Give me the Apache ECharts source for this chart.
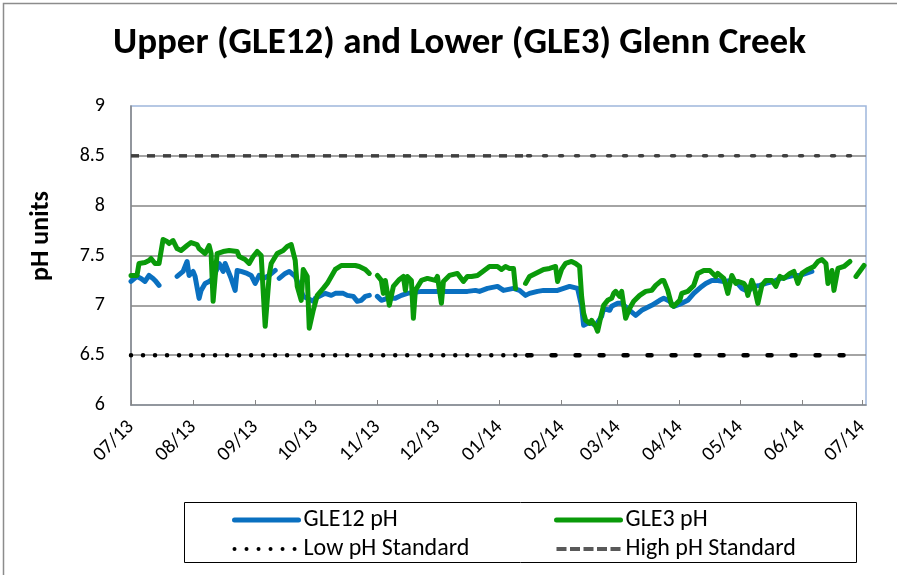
<!DOCTYPE html>
<html>
<head>
<meta charset="utf-8">
<script src="https://cdn.jsdelivr.net/npm/echarts@6/dist/echarts.min.js"></script>
<style>
  html, body { margin: 0; padding: 0; background: #fff; }
  #chart { width: 897px; height: 575px; }
</style>
</head>
<body>
<div id="chart"></div>
<script>
// Glenn Creek continuous pH record, July 2013 - July 2014
const FONT = "Carlito, Lato, sans-serif";

// Upper Glenn Creek (GLE12) readings; null marks a break in the record
const gle12Dates = [
  '2013-07-01','2013-07-04','2013-07-06','2013-07-08','2013-07-10','2013-07-12','2013-07-13','2013-07-15','2013-07-19',
  '2013-07-24','2013-07-27','2013-07-29','2013-07-30','2013-08-01','2013-08-02','2013-08-04','2013-08-05','2013-08-07',
  '2013-08-09','2013-08-11','2013-08-14','2013-08-16','2013-08-17','2013-08-20','2013-08-22','2013-08-23','2013-08-25',
  '2013-08-28','2013-08-30','2013-09-01','2013-09-03','2013-09-05','2013-09-08','2013-09-11','2013-09-12','2013-09-13',
  '2013-09-16','2013-09-18','2013-09-21','2013-09-23','2013-09-25','2013-09-27','2013-09-30','2013-10-01','2013-10-04',
  '2013-10-06','2013-10-09','2013-10-11','2013-10-15','2013-10-17','2013-10-20','2013-10-22','2013-10-24','2013-10-26',
  '2013-10-28','2013-10-30','2013-11-01','2013-11-03','2013-11-06','2013-11-10','2013-11-13','2013-11-16','2013-11-23',
  '2013-12-01','2013-12-11','2013-12-16','2013-12-20','2013-12-22','2013-12-26','2013-12-31','2014-01-03','2014-01-08',
  '2014-01-11','2014-01-14','2014-01-16','2014-01-20','2014-01-23','2014-01-30','2014-02-02','2014-02-05','2014-02-09',
  '2014-02-11','2014-02-12','2014-02-14','2014-02-16','2014-02-18','2014-02-21','2014-02-22','2014-02-25','2014-02-26',
  '2014-03-01','2014-03-03','2014-03-07','2014-03-10','2014-03-13','2014-03-15','2014-03-18','2014-03-22','2014-03-24',
  '2014-03-27','2014-03-29','2014-04-02','2014-04-05','2014-04-08','2014-04-12','2014-04-14','2014-04-17','2014-04-20',
  '2014-04-23','2014-04-27','2014-04-29','2014-05-02','2014-05-05','2014-05-08','2014-05-11','2014-05-14','2014-05-18',
  '2014-05-21','2014-05-24','2014-05-28','2014-05-31','2014-06-03','2014-06-06'
];
const gle12Values = [
  7.24,7.29,7.27,7.24,7.30,7.27,7.25,7.20,null,
  7.29,7.34,7.44,7.30,7.34,7.29,7.07,7.15,7.22,
  7.24,7.27,7.42,7.34,7.42,7.27,7.15,7.35,7.34,
  7.32,7.30,7.22,7.30,7.27,7.30,7.35,null,7.27,
  7.32,7.34,7.29,7.20,7.09,7.07,7.04,7.07,7.10,
  7.12,7.10,7.12,7.12,7.10,7.09,7.04,7.05,7.09,
  7.10,null,7.09,7.05,7.07,7.07,7.10,7.12,7.14,
  7.14,7.14,7.14,7.15,7.14,7.17,7.19,7.15,7.17,
  7.15,7.10,7.12,7.14,7.15,7.15,7.17,7.19,7.17,
  6.99,6.80,6.82,6.82,6.80,6.89,6.97,6.95,6.99,
  7.02,7.02,6.95,6.90,6.95,6.97,7.00,7.05,7.07,
  7.04,6.99,7.02,7.05,7.12,7.19,7.22,7.25,7.25,
  7.24,7.25,7.24,7.17,7.14,7.19,7.20,7.22,7.24,
  7.27,7.28,7.30,7.30,7.32,7.34
];

// Lower Glenn Creek (GLE3) readings; null marks a break in the record
const gle3Dates = [
  '2013-07-01','2013-07-04','2013-07-05','2013-07-08','2013-07-10','2013-07-11','2013-07-13','2013-07-15','2013-07-17',
  '2013-07-19','2013-07-20','2013-07-22','2013-07-24','2013-07-26','2013-07-29','2013-07-31','2013-08-03','2013-08-04',
  '2013-08-07','2013-08-09','2013-08-10','2013-08-11','2013-08-13','2013-08-16','2013-08-19','2013-08-23','2013-08-24',
  '2013-08-27','2013-08-29','2013-08-31','2013-09-02','2013-09-04','2013-09-06','2013-09-08','2013-09-09','2013-09-12',
  '2013-09-15','2013-09-17','2013-09-19','2013-09-21','2013-09-22','2013-09-24','2013-09-25','2013-09-27','2013-09-28',
  '2013-09-30','2013-10-02','2013-10-05','2013-10-07','2013-10-09','2013-10-11','2013-10-14','2013-10-18','2013-10-21',
  '2013-10-23','2013-10-26','2013-10-28','2013-10-30',
  '2013-11-01','2013-11-03','2013-11-04','2013-11-05','2013-11-07','2013-11-09','2013-11-12','2013-11-14','2013-11-15',
  '2013-11-16','2013-11-18','2013-11-19','2013-11-20','2013-11-23','2013-11-26','2013-11-30','2013-12-01','2013-12-03',
  '2013-12-04','2013-12-07','2013-12-11','2013-12-14','2013-12-16','2013-12-18','2013-12-21','2013-12-25','2013-12-27',
  '2013-12-31','2014-01-02','2014-01-04','2014-01-06','2014-01-08','2014-01-09','2014-01-11',
  '2014-01-14','2014-01-16','2014-01-19','2014-01-23','2014-01-26','2014-01-29','2014-01-30','2014-02-01','2014-02-03',
  '2014-02-06','2014-02-08','2014-02-10','2014-02-11','2014-02-12','2014-02-13','2014-02-15','2014-02-16','2014-02-18',
  '2014-02-19','2014-02-21','2014-02-22','2014-02-24','2014-02-26','2014-02-27','2014-02-28','2014-03-02','2014-03-03',
  '2014-03-05','2014-03-07','2014-03-09','2014-03-12','2014-03-15','2014-03-18','2014-03-20','2014-03-23','2014-03-24',
  '2014-03-26','2014-03-28','2014-03-29','2014-04-01','2014-04-02','2014-04-05','2014-04-08','2014-04-10','2014-04-13',
  '2014-04-16','2014-04-19','2014-04-20','2014-04-23','2014-04-25','2014-04-27','2014-04-29','2014-04-30','2014-05-03',
  '2014-05-04','2014-05-05','2014-05-07','2014-05-08','2014-05-10','2014-05-12','2014-05-14','2014-05-17','2014-05-19',
  '2014-05-21','2014-05-23','2014-05-26','2014-05-28','2014-05-30','2014-06-01','2014-06-04','2014-06-07','2014-06-09',
  '2014-06-11','2014-06-13','2014-06-14','2014-06-16','2014-06-17','2014-06-19','2014-06-22','2014-06-25','2014-06-26',
  '2014-06-28','2014-07-02'
];
const gle3Values = [
  7.30,7.30,7.42,7.43,7.45,7.47,7.42,7.42,7.66,
  7.64,7.62,7.65,7.57,7.55,7.60,7.63,7.61,7.57,
  7.52,7.60,7.52,7.04,7.52,7.54,7.55,7.54,7.49,
  7.46,7.42,7.49,7.54,7.50,6.79,7.30,7.42,7.52,
  7.55,7.59,7.61,7.45,7.19,7.05,7.36,7.29,6.77,
  6.95,7.10,7.17,7.22,7.29,7.36,7.40,7.40,7.40,
  7.39,7.36,7.32,null,
  7.30,7.25,7.12,7.25,7.00,7.19,7.26,7.29,7.15,
  7.29,7.25,6.87,7.15,7.25,7.27,7.25,7.29,7.02,
  7.24,7.30,7.32,7.24,7.29,7.29,7.30,7.36,7.39,
  7.39,7.36,7.39,7.37,7.37,7.17,null,
  7.22,7.29,7.32,7.36,7.37,7.39,7.24,7.36,7.42,
  7.44,7.42,7.39,7.09,6.92,6.85,6.82,6.85,6.79,
  6.74,6.92,7.00,7.05,7.07,7.12,7.14,7.09,7.14,
  6.87,6.97,7.04,7.10,7.14,7.15,7.20,7.25,7.25,
  7.15,7.00,6.99,7.05,7.12,7.14,7.20,7.32,7.35,
  7.35,7.29,7.32,7.27,7.12,7.30,7.22,7.24,7.22,
  7.19,7.10,7.25,7.20,7.02,7.20,7.25,7.25,7.19,
  7.29,7.27,7.32,7.34,7.22,7.32,7.36,7.39,7.44,
  7.46,7.42,7.22,7.35,7.15,7.37,7.39,7.44,null,
  7.29,7.40
];

// Water-quality standards and the dates the standard lines span
const lowStandard = 6.5;
const highStandard = 8.5;
const standardDates = ['2013-07-01', '2014-01-15', '2014-06-29'];

// Axis ranges and tick values
const xStart = '2013-07-01';
const xEnd = '2014-07-03';
const yMin = 6, yMax = 9, yStep = 0.5;

const pairs = (dates, values) => dates.map((d, i) => [d, values[i]]);
const flat = (v, a, b) => [[standardDates[a], v], [standardDates[b], v]];

const pad2 = n => (n < 10 ? '0' : '') + n;
const monthLabel = v => {
  const d = new Date(v);
  return pad2(d.getMonth() + 1) + '/' + pad2(d.getFullYear() % 100);
};

const BLUE = '#0a70c0', GREEN = '#0a9a0a', DARK = '#404040';
const DAY = 86400000;
const chart = echarts.init(document.getElementById('chart'), null, { renderer: 'canvas' });

const legendText = { fontFamily: FONT, fontSize: 24, color: '#000' };
const hidden = { opacity: 0 };

chart.setOption({
  animation: false,
  backgroundColor: '#ffffff',
  textStyle: { fontFamily: FONT, color: '#000' },
  title: {
    text: 'Upper (GLE12) and Lower (GLE3) Glenn Creek',
    left: 108,
    top: 20,
    padding: 5,
    textStyle: { fontFamily: FONT, fontSize: 37, fontWeight: 'bold', color: '#000' }
  },
  grid: {
    left: 131, right: 31, top: 106, bottom: 170,
    show: true, borderColor: '#9fb6dc', borderWidth: 1.5, backgroundColor: '#fff'
  },
  legend: [
    {
      data: [
        { name: 'GLE12 pH', itemStyle: hidden, lineStyle: { color: BLUE, width: 5, cap: 'round', type: 'solid' } },
        { name: 'Low pH Standard', itemStyle: hidden, lineStyle: { color: '#000', width: 4, cap: 'round', type: [0.01, 12] } }
      ],
      orient: 'vertical', left: 227, top: 503, itemWidth: 64, itemHeight: 14, itemGap: 5,
      textStyle: legendText
    },
    {
      data: [
        { name: 'GLE3 pH', itemStyle: hidden, lineStyle: { color: GREEN, width: 5, cap: 'round', type: 'solid' } },
        { name: 'High pH Standard', itemStyle: hidden, lineStyle: { color: '#595959', width: 4, cap: 'butt', type: [10, 3.5] } }
      ],
      orient: 'vertical', left: 549, top: 503, itemWidth: 64, itemHeight: 14, itemGap: 5,
      textStyle: legendText
    }
  ],
  xAxis: {
    type: 'time',
    min: xStart, max: xEnd,
    minInterval: 28 * DAY, maxInterval: 31 * DAY,
    axisLine: { lineStyle: { color: '#868686', width: 1.5 } },
    axisTick: { show: true, inside: true, length: 5, lineStyle: { color: '#868686' } },
    splitLine: { show: false },
    axisLabel: {
      rotate: 45, margin: 19, fontFamily: FONT, fontSize: 20, color: '#000',
      formatter: monthLabel
    }
  },
  yAxis: {
    type: 'value',
    min: yMin, max: yMax, interval: yStep,
    axisLine: { show: true, lineStyle: { color: '#868686', width: 1.5 } },
    axisTick: { show: false },
    axisLabel: { margin: 26, fontFamily: FONT, fontSize: 20, color: '#000' },
    splitLine: {
      show: true,
      lineStyle: {
        color: ['rgba(0,0,0,0)', '#868686', '#868686', '#868686', '#868686', '#868686', 'rgba(0,0,0,0)'],
        width: 1.5
      }
    }
  },
  graphic: [
    {
      type: 'rect', silent: true,
      shape: { x: 3.5, y: 3.5, width: 900, height: 580 },
      style: { fill: 'none', stroke: '#8c8c8c', lineWidth: 1.5 }
    },
    {
      type: 'rect', silent: true,
      shape: { x: 184.5, y: 502.5, width: 672, height: 60 },
      style: { fill: 'none', stroke: '#000', lineWidth: 1 }
    },
    {
      type: 'text', silent: true,
      x: 41, y: 236, rotation: Math.PI / 2,
      style: {
        text: 'pH units', fontFamily: FONT, fontSize: 26, fontWeight: 'bold',
        fill: '#000', align: 'center', verticalAlign: 'middle'
      }
    }
  ],
  series: [
    {
      name: 'GLE12 pH', type: 'line', symbol: 'none', connectNulls: false,
      data: pairs(gle12Dates, gle12Values),
      lineStyle: { color: BLUE, width: 5, cap: 'round', join: 'round' },
      itemStyle: { color: BLUE }
    },
    {
      name: 'GLE3 pH', type: 'line', symbol: 'none', connectNulls: false,
      data: pairs(gle3Dates, gle3Values),
      lineStyle: { color: GREEN, width: 5, cap: 'round', join: 'round' },
      itemStyle: { color: GREEN }
    },
    {
      name: 'Low pH Standard', type: 'line', symbol: 'none',
      data: flat(lowStandard, 0, 1),
      lineStyle: { color: '#000', width: 4.5, type: [0.01, 12], cap: 'round' },
      itemStyle: { color: '#000' }
    },
    {
      name: 'lowStandardLate', type: 'line', symbol: 'none',
      data: flat(lowStandard, 1, 2),
      lineStyle: { color: '#000', width: 4.5, type: [4, 20], cap: 'round' },
      itemStyle: { color: '#000' }
    },
    {
      name: 'High pH Standard', type: 'line', symbol: 'none',
      data: flat(highStandard, 0, 1),
      lineStyle: { color: DARK, width: 3.5, type: [8, 8], cap: 'butt' },
      itemStyle: { color: DARK }
    },
    {
      name: 'highStandardLate', type: 'line', symbol: 'none',
      data: flat(highStandard, 1, 2),
      lineStyle: { color: DARK, width: 3.5, type: [3, 13], cap: 'round' },
      itemStyle: { color: DARK }
    }
  ]
});
</script>
</body>
</html>
